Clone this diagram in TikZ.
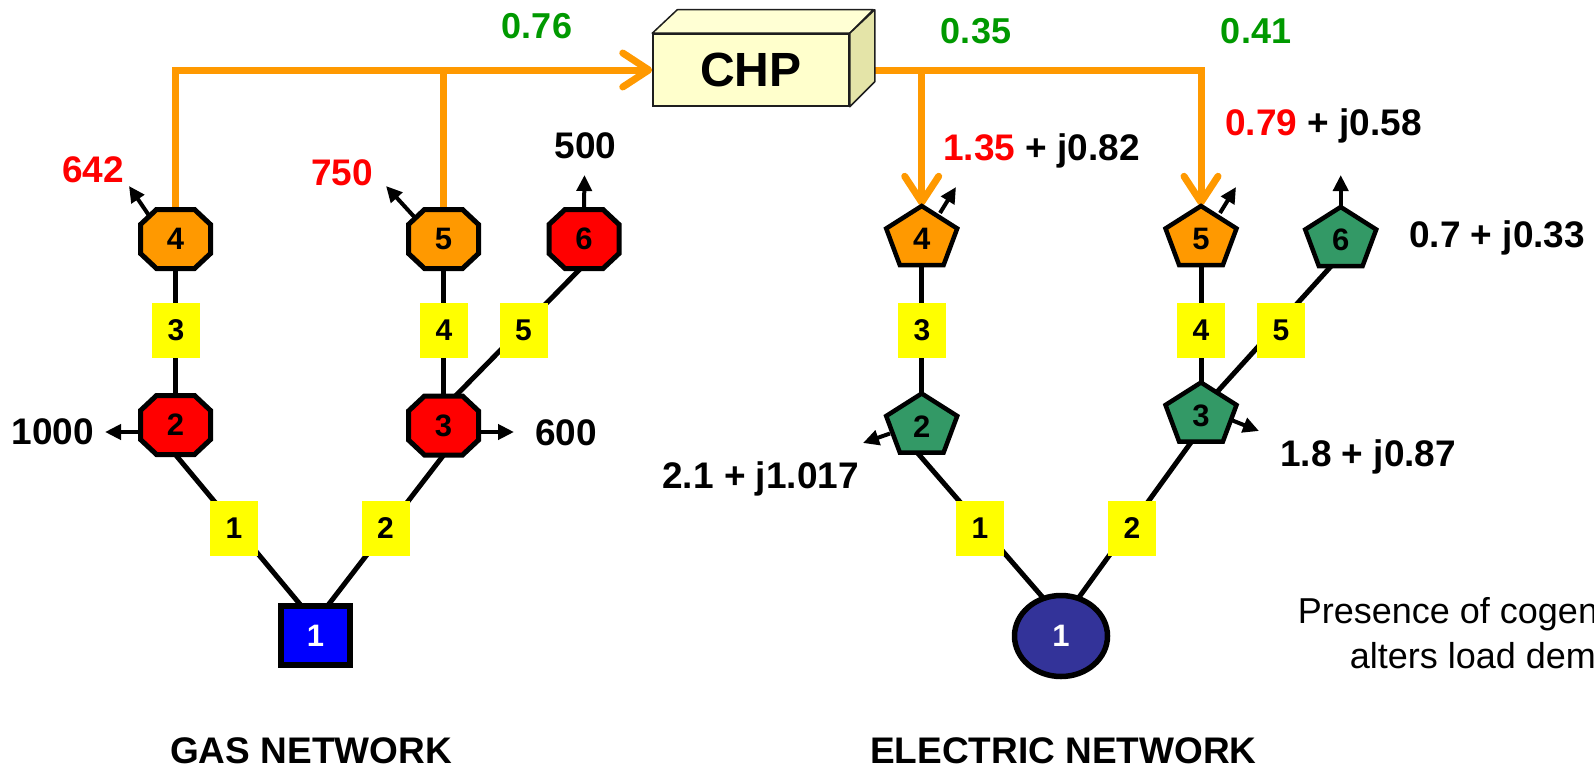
\documentclass[tikz,border=0pt]{standalone}
\usepackage{fontspec}
\setmainfont{Liberation Sans}
\usetikzlibrary{arrows.meta,shapes.geometric,calc}

\definecolor{flowC}{RGB}{255,153,0}
\definecolor{hotC}{RGB}{255,0,0}
\definecolor{valC}{RGB}{0,153,0}
\definecolor{tealC}{RGB}{51,153,102}
\definecolor{gasC}{RGB}{0,0,255}
\definecolor{slackC}{RGB}{51,51,153}
\definecolor{tagC}{RGB}{255,255,0}
\definecolor{chpFront}{RGB}{255,255,204}
\definecolor{chpTop}{RGB}{255,255,212}
\definecolor{chpSide}{RGB}{228,228,168}
\definecolor{chpEdge}{RGB}{30,30,30}

\pgfdeclarelayer{bg}
\pgfsetlayers{bg,main}

\newcommand\valfont{\fontsize{37}{44}\selectfont\bfseries}
\newcommand\greenfont{\fontsize{36}{42}\selectfont\bfseries}
\newcommand\busfont{\fontsize{31}{36}\selectfont\bfseries}
\newcommand\tagfont{\fontsize{30}{36}\selectfont\bfseries}
\newcommand\notefont{\fontsize{36}{45}\selectfont}

% octagonal gas bus: name, centre, fill, number
\newcommand\gasbus[4]{%
  \path[draw=black,line width=5pt,fill=#3,shift={(#2)}]
    (-19,-29.5) -- (19,-29.5) -- (35,-14.5) -- (35,14.5) -- (19,29.5)
    -- (-19,29.5) -- (-35,14.5) -- (-35,-14.5) -- cycle;
  \node[busbox] (#1) at (#2) {#4};}

% pentagonal electric bus: name, centre, fill, number
\newcommand\elbus[4]{%
  \path[draw=black,line width=4.5pt,fill=#3,shift={(#2)}]
    (0,-29.5) -- (35.5,-7) -- (21.9,29.5) -- (-21.9,29.5) -- (-35.5,-7) -- cycle;
  \node[busbox,text height=28pt,text depth=0pt] (#1) at (#2) {#4};}

\begin{document}
\begin{tikzpicture}[x=1pt,y=-1pt,
  busbox/.style={minimum width=70pt,minimum height=59pt,inner sep=0pt,font=\busfont},
  wire/.style={line width=5pt,draw=black},
  flowline/.style={line width=7pt,draw=flowC},
  flow/.style={flowline,-{Straight Barb[length=26pt,width=34pt,round]}},
  loadarr/.style={line width=4pt,draw=black,-{Triangle[length=16pt,width=15pt]}},
  branchtag/.style={fill=tagC,minimum width=48pt,minimum height=55pt,inner sep=0pt,font=\tagfont},
  val/.style={font=\valfont,anchor=base,inner sep=0pt},
  gval/.style={font=\greenfont,anchor=base,inner sep=0pt,text=valC},
  title/.style={font=\valfont,anchor=base,inner sep=0pt},
]
\useasboundingbox (0,0) rectangle (1594,768);

% ---------- CHP unit ----------
\node[draw=chpEdge,line width=1.5pt,fill=chpFront,minimum width=196pt,minimum height=72pt,
      inner sep=0pt,font=\fontsize{48}{52}\selectfont\bfseries] (chp) at (751,70) {CHP};
\path[draw=chpEdge,line width=1.5pt,fill=chpTop,line join=round]
  (chp.north west) -- ++(25,-23.5) -- ++(196,0) -- (chp.north east) -- cycle;
\path[draw=chpEdge,line width=1.5pt,fill=chpSide,line join=round]
  (chp.north east) -- ++(25,-23.5) -- ++(0,72) -- (chp.south east) -- cycle;
\coordinate (chpout) at ($(chp.east)+(25,0)$);

% ---------- gas network buses ----------
\gasbus{g4}{175.5,239}{flowC}{4}
\gasbus{g5}{443.5,239}{flowC}{5}
\gasbus{g6}{584,239}{hotC}{6}
\gasbus{g2}{175.5,425}{hotC}{2}
\gasbus{g3}{443.5,425.5}{hotC}{3}
\node[draw=black,line width=6pt,fill=gasC,minimum width=69pt,minimum height=59pt,
      inner sep=0pt,font=\busfont,text=white] (g1) at (315.5,635.5) {1};

% ---------- electric network buses ----------
\elbus{e4}{921.7,235.5}{flowC}{4}
\elbus{e5}{1201,235.5}{flowC}{5}
\elbus{e6}{1340.7,236.5}{tealC}{6}
\elbus{e2}{921.7,423}{tealC}{2}
\elbus{e3}{1201,412}{tealC}{3}
\node[draw=black,line width=5.5pt,fill=slackC,ellipse,minimum width=93pt,minimum height=81pt,
      inner sep=0pt,font=\busfont,text=white] (e1) at (1061,636) {1};

% ---------- load arrow ends ----------
\coordinate (g4ld) at (129,186);
\coordinate (g5ld) at (386,186);
\coordinate (g6ld) at (584.5,175);
\coordinate (g2ld) at (105,432);
\coordinate (g3ld) at (514,432);
\coordinate (e4ld) at (956,187);
\coordinate (e5ld) at (1236,187);
\coordinate (e6ld) at (1340.7,175);
\coordinate (e2ld) at (863,443);
\coordinate (e3ld) at (1259,431);

\begin{pgfonlayer}{bg}
  % pipes and lines
  \draw[wire] (g4.south) -- (g2.north);
  \draw[wire] (g5.south) -- (g3.north);
  \draw[wire] ($(g3)+(11.5,-29)$) -- ($(g6)+(-3,29)$);
  \draw[wire] (g2.south) -- ($(g1)+(-12,-27)$);
  \draw[wire] (g3.south) -- ($(g1)+(10,-27)$);
  \draw[wire] (e4.south) -- (e2.north);
  \draw[wire] (e5.south) -- (e3.north);
  \draw[wire] ($(e3)+(16,-20)$) -- ($(e6)+(-9,29)$);
  \draw[wire] ($(e2)+(-5,29)$) -- ($(e1)+(-16,-36)$);
  \draw[wire] ($(e3)+(-9,29)$) -- ($(e1)+(16,-36)$);
  % gas feed to CHP and CHP output
  \draw[flow] (g4.north) |- (chp.west);
  \draw[flowline] (g5.north) -- (g5.north |- chp.west);
  \draw[flow] (chpout) -| (e5.north);
  \draw[flow] (e4.north |- chpout) -- (e4.north);
  % loads
  \draw[loadarr] ($(g4)+(-25.5,-22)$) -- (g4ld);
  \draw[loadarr] ($(g5)+(-25.5,-18)$) -- (g5ld);
  \draw[loadarr] (g6.north) -- (g6ld);
  \draw[loadarr] ($(g2)+(-34,7)$) -- (g2ld);
  \draw[loadarr] ($(g3)+(34,6.5)$) -- (g3ld);
  \draw[loadarr] ($(e4)+(18.3,-22.5)$) -- (e4ld);
  \draw[loadarr] ($(e5)+(19,-22.5)$) -- (e5ld);
  \draw[loadarr] (e6.north) -- (e6ld);
  \draw[loadarr] ($(e2)+(-31.7,10.5)$) -- (e2ld);
  \draw[loadarr] ($(e3)+(29,7.5)$) -- (e3ld);
\end{pgfonlayer}

% ---------- branch numbers ----------
\node[branchtag] (gb3) at (176,330.5) {3};
\node[branchtag] (gb4) at (444,330.5) {4};
\node[branchtag] (gb5) at (523.5,330.5) {5};
\node[branchtag] (gb1) at (234,528) {1};
\node[branchtag] (gb2) at (385.5,528) {2};
\node[branchtag] (eb3) at (922,330.5) {3};
\node[branchtag] (eb4) at (1201,330.5) {4};
\node[branchtag] (eb5) at (1281,330.5) {5};
\node[branchtag] (eb1) at (980,528) {1};
\node[branchtag] (eb2) at (1132,528) {2};

% ---------- values ----------
\node[gval] (f076) at (537,39) {0.76};
\node[gval] (f035) at (976,44) {0.35};
\node[gval] (f041) at (1256,44) {0.41};

\node[val,text=hotC] (v642) at (93,182) {642};
\node[val,text=hotC] (v750) at (342,185) {750};
\node[val] (v500) at (585.5,158) {500};
\node[val] (v1000) at (53,444) {1000};
\node[val] (v600) at (566,445) {600};

\node[val,anchor=base west] (s4) at (943,160) {\textcolor{hotC}{1.35} + j0.82};
\node[val,anchor=base west] (s5) at (1225,135) {\textcolor{hotC}{0.79} + j0.58};
\node[val,anchor=base west] (s6) at (1409,247) {0.7 + j0.33};
\node[val,anchor=base west] (s3) at (1280,466) {1.8 + j0.87};
\node[val,anchor=base east] (s2) at (859,488) {2.1 + j1.017};

% ---------- titles ----------
\node[title] (gastitle) at (311,763) {GAS NETWORK};
\node[title] (eltitle) at (1063.5,763) {ELECTRIC NETWORK};

\begin{scope}
  \clip (0,0) rectangle (1594,768);
  \node[font=\notefont,anchor=base,inner sep=0pt] (note1) at (1503,623) {Presence of cogeneration};
  \node[font=\notefont,anchor=base,inner sep=0pt] (note2) at (1503,668) {alters load demand};
\end{scope}
\end{tikzpicture}
\end{document}
